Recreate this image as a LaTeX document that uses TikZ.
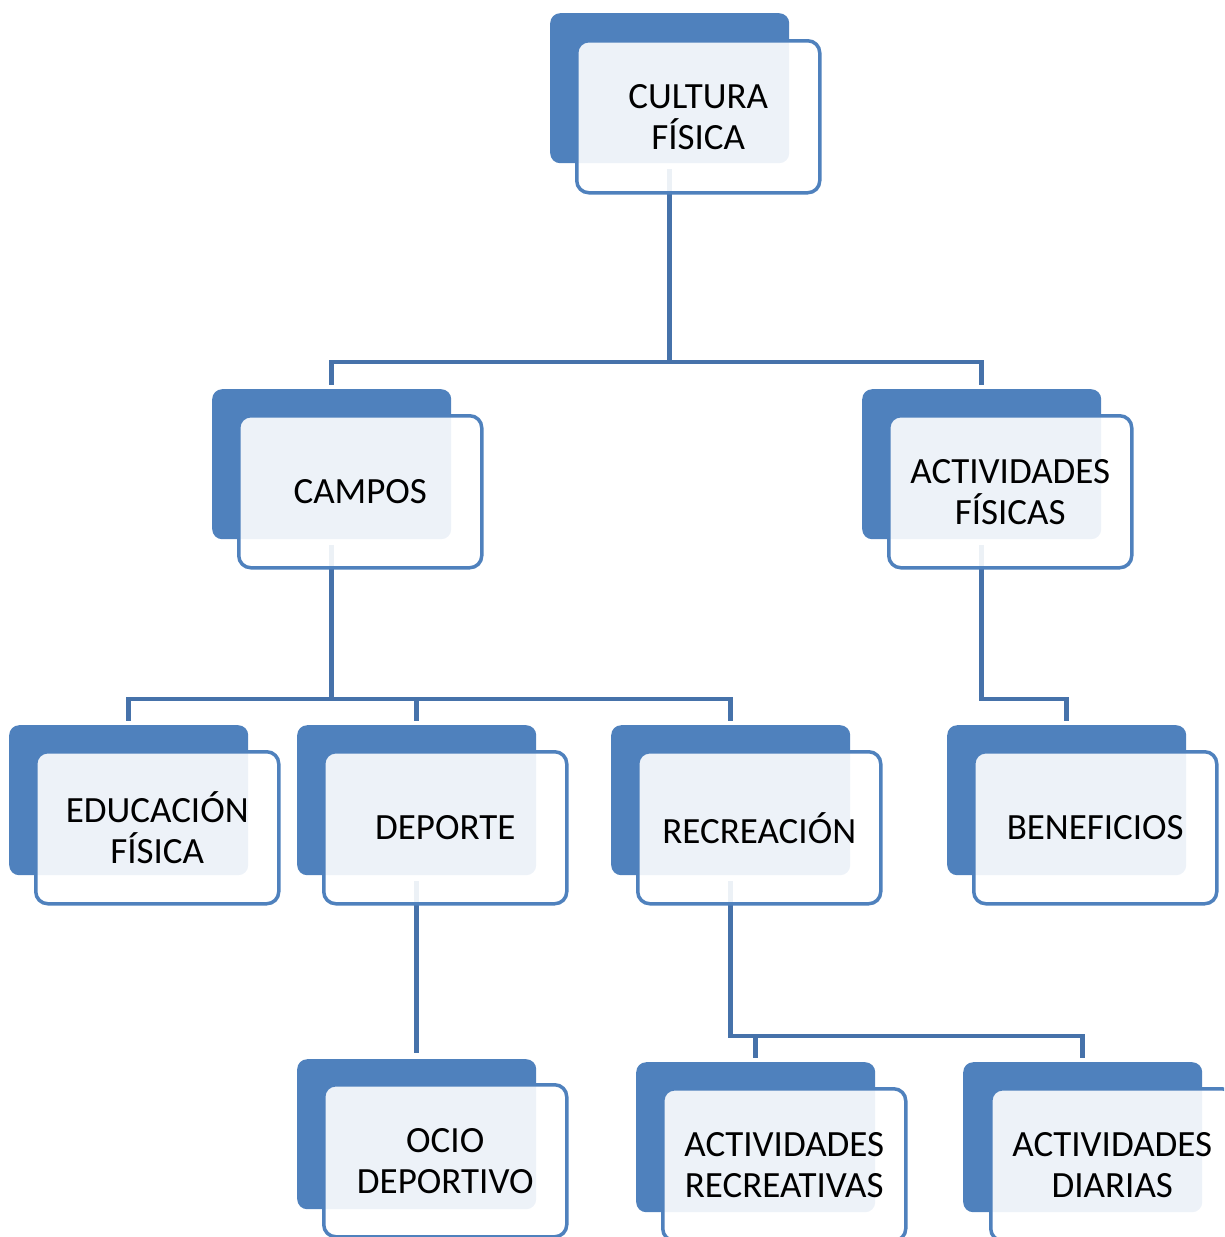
\documentclass[tikz,border=0pt]{standalone}
\usepackage{fontspec}
\setmainfont{Carlito}
\definecolor{boxblue}{RGB}{79,129,189}
\definecolor{connblue}{RGB}{70,114,170}
\tikzset{
  backbox/.style={anchor=north west, draw=none, fill=boxblue, rounded corners=10pt,
    minimum width=239pt, minimum height=150pt, inner sep=0pt},
  frontbox/.style={anchor=north west, draw=boxblue, line width=3.5pt, fill=white,
    fill opacity=0.9, draw opacity=1, text opacity=1, rounded corners=12pt,
    minimum width=243pt, minimum height=152pt, inner sep=0pt, align=center,
    font=\fontsize{37}{41}\selectfont, text=black},
  conn/.style={draw=connblue, line width=4.5pt}
}
\begin{document}
\begin{tikzpicture}[x=1pt,y=-1pt]
\path[use as bounding box, clip] (0,0) rectangle (1224,1237);
% back boxes
\node[backbox] (cfb)   at (550,13)   {};
\node[backbox] (cab)   at (212,389)  {};
\node[backbox] (afb)   at (862,389)  {};
\node[backbox] (efb)   at (9,725)    {};
\node[backbox] (deb)   at (297,725)  {};
\node[backbox] (reb)   at (611,725)  {};
\node[backbox] (beb)   at (947,725)  {};
\node[backbox] (ocb)   at (297,1059) {};
\node[backbox] (arb)   at (636,1062) {};
\node[backbox] (adb)   at (963,1062) {};
% junction coordinates
\coordinate (h1) at (0,362);
\coordinate (h2) at (0,699);
\coordinate (h3) at (0,1036);
% connectors
\draw[conn] ([yshift=-6pt]cfb.south) -- (cfb.south |- h1) -| ([yshift=4pt]cab.north);
\draw[conn] (cfb.south |- h1) -| ([yshift=4pt]afb.north);
\draw[conn] ([yshift=-6pt]cab.south) -- (cab.south |- h2) -| ([yshift=4pt]efb.north);
\draw[conn] (cab.south |- h2) -| ([yshift=4pt]deb.north);
\draw[conn] (cab.south |- h2) -| ([yshift=4pt]reb.north);
\draw[conn] ([yshift=-6pt]afb.south) -- (afb.south |- h2) -| ([yshift=4pt]beb.north);
\draw[conn] ([yshift=-6pt]deb.south) -- ([yshift=6pt]ocb.north);
\draw[conn] ([yshift=-6pt]reb.south) -- (reb.south |- h3) -| ([yshift=4pt]adb.north);
\draw[conn] (reb.south |- h3) -| ([yshift=4pt]arb.north);
% front boxes
\node[frontbox] (cf) at (575,39)   {CULTURA\\FÍSICA};
\node[frontbox] (ca) at (237,414)  {CAMPOS};
\node[frontbox] (af) at (887,414)  {ACTIVIDADES\\FÍSICAS};
\node[frontbox] (ef) at (34,750)   {EDUCACIÓN\\FÍSICA};
\node[frontbox] (de) at (322,750)  {DEPORTE};
\node[frontbox] (re) at (636,750)  {RECREACIÓN};
\node[frontbox] (be) at (972,750)  {BENEFICIOS};
\node[frontbox] (oc) at (322,1083) {OCIO\\DEPORTIVO};
\node[frontbox] (ar) at (661,1087) {ACTIVIDADES\\RECREATIVAS};
\node[frontbox] (ad) at (989,1087) {ACTIVIDADES\\DIARIAS};
\end{tikzpicture}
\end{document}
